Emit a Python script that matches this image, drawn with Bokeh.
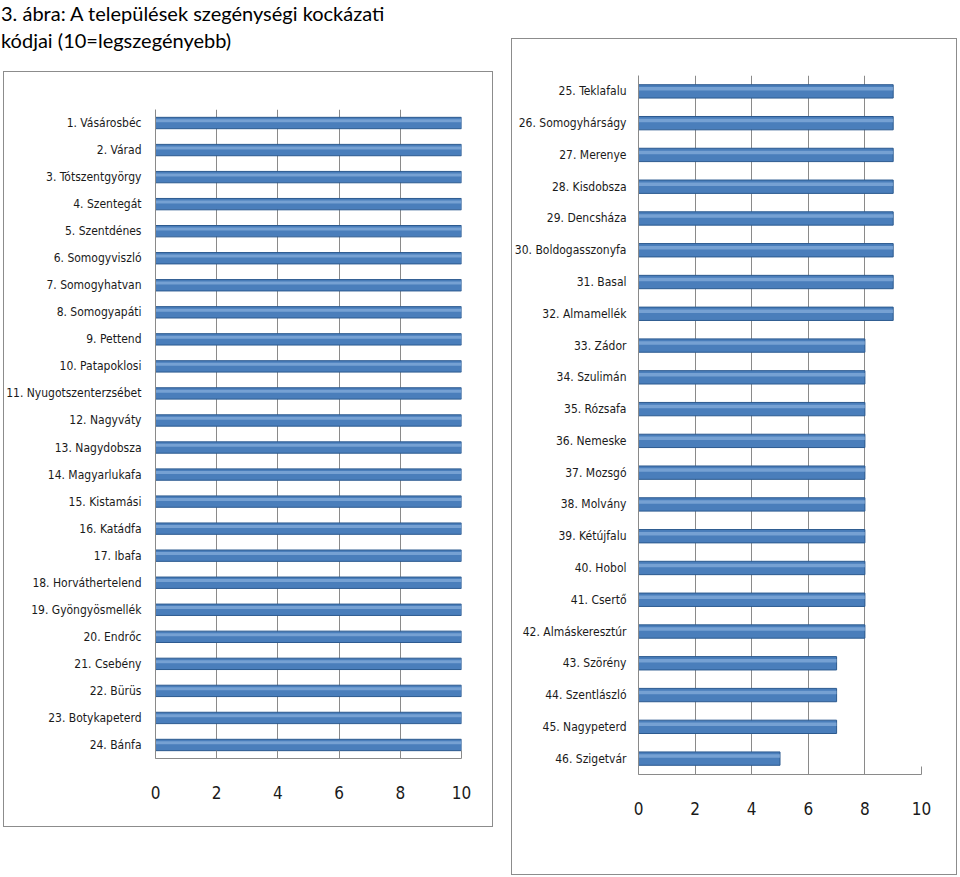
from bokeh.plotting import figure
from bokeh.models import FactorRange, Range1d, FixedTicker, Div, Spacer, ColumnDataSource
from bokeh.layouts import row, column
from bokeh.transform import dodge
from bokeh.embed import file_html
from bokeh.resources import INLINE

title_text = "3. ábra: A települések szegénységi kockázati<br>kódjai (10=legszegényebb)"

left_names = [
    "1. Vásárosbéc", "2. Várad", "3. Tótszentgyörgy", "4. Szentegát",
    "5. Szentdénes", "6. Somogyviszló", "7. Somogyhatvan", "8. Somogyapáti",
    "9. Pettend", "10. Patapoklosi", "11. Nyugotszenterzsébet", "12. Nagyváty",
    "13. Nagydobsza", "14. Magyarlukafa", "15. Kistamási", "16. Katádfa",
    "17. Ibafa", "18. Horváthertelend", "19. Gyöngyösmellék", "20. Endrőc",
    "21. Csebény", "22. Bürüs", "23. Botykapeterd", "24. Bánfa",
]
left_values = [10, 10, 10, 10, 10, 10, 10, 10, 10, 10, 10, 10,
               10, 10, 10, 10, 10, 10, 10, 10, 10, 10, 10, 10]

right_names = [
    "25. Teklafalu", "26. Somogyhárságy", "27. Merenye", "28. Kisdobsza",
    "29. Dencsháza", "30. Boldogasszonyfa", "31. Basal", "32. Almamellék",
    "33. Zádor", "34. Szulimán", "35. Rózsafa", "36. Nemeske",
    "37. Mozsgó", "38. Molvány", "39. Kétújfalu", "40. Hobol",
    "41. Csertő", "42. Almáskeresztúr", "43. Szörény", "44. Szentlászló",
    "45. Nagypeterd", "46. Szigetvár",
]
right_values = [9, 9, 9, 9, 9, 9, 9, 9, 8, 8, 8, 8, 8, 8, 8, 8, 8, 8, 7, 7, 7, 5]

x_ticks = [0, 2, 4, 6, 8, 10]

LABEL_FONT = "'Liberation Sans Narrow', 'DejaVu Sans Condensed', 'Roboto Condensed', 'Liberation Sans', sans-serif"


def make_chart(names, values, width, height, left, right, top, bottom,
               cat_font_size, cat_standoff):
    src = ColumnDataSource(dict(name=names, value=values))
    p = figure(
        y_range=FactorRange(factors=names[::-1]),
        x_range=Range1d(0, 10),
        width=width, height=height,
        output_backend="svg", toolbar_location=None,
        min_border_left=left, min_border_right=right,
        min_border_top=top, min_border_bottom=bottom,
        styles={"outline": "1px solid #8c8c8c", "outline-offset": "-1px"},
    )
    p.outline_line_color = None
    p.border_fill_color = None
    p.background_fill_color = None
    p.hbar(y="name", right="value", left=0, height=0.42, source=src,
           fill_color="#4A7EBB", line_color="#2C5A8F", line_width=1)
    p.hbar(y=dodge("name", 0.08, range=p.y_range), right="value", left=0,
           height=0.11, source=src, fill_color="#9BBDE8", fill_alpha=0.55,
           line_color=None)

    p.xaxis.ticker = FixedTicker(ticks=x_ticks)
    p.xgrid.ticker = FixedTicker(ticks=x_ticks)
    p.xgrid.grid_line_color = "#8a8a8a"
    p.ygrid.grid_line_color = None

    p.xaxis.axis_line_color = "#8a8a8a"
    p.xaxis.major_tick_line_color = "#8a8a8a"
    p.xaxis.major_tick_in = 8
    p.xaxis.major_tick_out = 0
    p.xaxis.minor_tick_line_color = None
    p.xaxis.major_label_standoff = 27
    p.xaxis.major_label_text_font = LABEL_FONT
    p.xaxis.major_label_text_font_size = "17px"
    p.xaxis.major_label_text_color = "#1a1a1a"

    p.yaxis.axis_line_color = "#8a8a8a"
    p.yaxis.major_tick_line_color = None
    p.yaxis.minor_tick_line_color = None
    p.yaxis.major_label_standoff = cat_standoff
    p.yaxis.major_label_text_font = LABEL_FONT
    p.yaxis.major_label_text_font_size = cat_font_size
    p.yaxis.major_label_text_color = "#1a1a1a"
    return p


title = Div(
    text=title_text, width=480, height=61,
    styles={"font-family": "Lato, 'Liberation Sans', Arial, sans-serif",
            "font-size": "20px", "line-height": "27px", "color": "#000",
            "position": "relative", "top": "-5px", "left": "-4px"},
)

left_chart = make_chart(left_names, left_values, 490, 756, 147, 32, 38, 69, "12px", 8)
right_chart = make_chart(right_names, right_values, 446, 837, 125, 36, 37, 101, "12px", 6)

p = row(
    column(title, row(Spacer(width=3), left_chart, spacing=0), spacing=0),
    Spacer(width=18),
    column(Spacer(height=38), right_chart, spacing=0),
    spacing=0,
)

open("out.html", "w").write(file_html(p, INLINE))
